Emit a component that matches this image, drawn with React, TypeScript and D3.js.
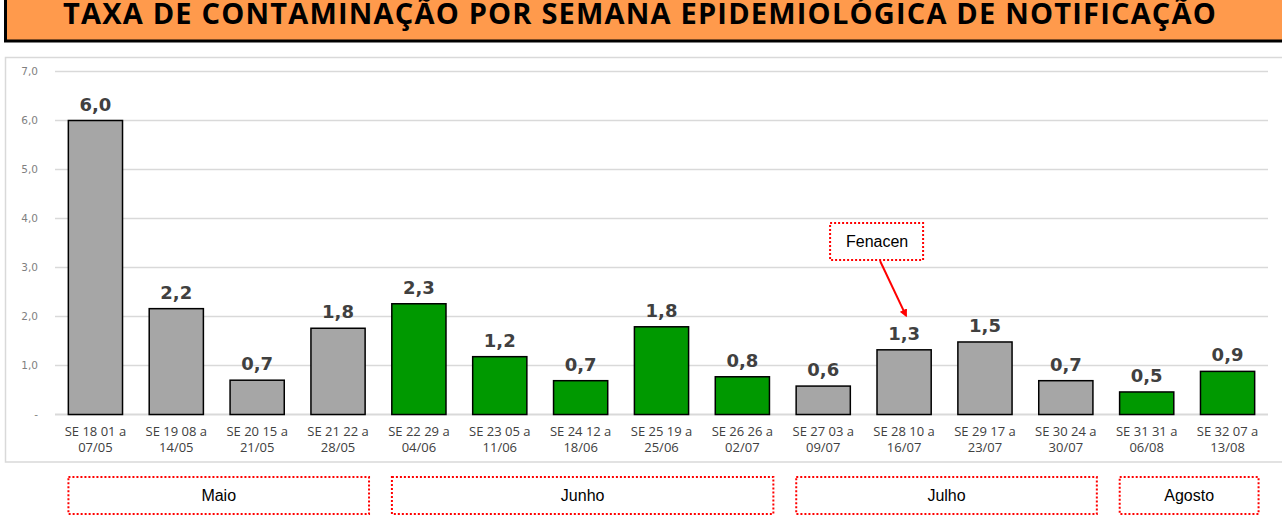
import React from "react";
import * as d3 from "d3";

// semanas epidemiológicas (duas linhas de rótulo)
const weeks = [
  "SE 18 01 a|07/05",
  "SE 19 08 a|14/05",
  "SE 20 15 a|21/05",
  "SE 21 22 a|28/05",
  "SE 22 29 a|04/06",
  "SE 23 05 a|11/06",
  "SE 24 12 a|18/06",
  "SE 25 19 a|25/06",
  "SE 26 26 a|02/07",
  "SE 27 03 a|09/07",
  "SE 28 10 a|16/07",
  "SE 29 17 a|23/07",
  "SE 30 24 a|30/07",
  "SE 31 31 a|06/08",
  "SE 32 07 a|13/08",
];
const rates = [6.0, 2.16, 0.7, 1.76, 2.26, 1.18, 0.69, 1.79, 0.77, 0.58, 1.32, 1.48, 0.69, 0.46, 0.88];
const highlighted = [false, false, false, false, true, true, true, true, true, false, false, false, false, true, true];
const yTicks = [0, 1, 2, 3, 4, 5, 6, 7];

const months = [
  { name: "Maio", from: 0, to: 3 },
  { name: "Junho", from: 4, to: 8 },
  { name: "Julho", from: 9, to: 12 },
  { name: "Agosto", from: 13, to: 14 },
];
const noteWeek = 10;
const noteText = "Fenacen";

const W = 1282;
const H = 528;
const fmt = (v: number) => (v === 0 ? "-" : v.toFixed(1).replace(".", ","));

export default function App() {
  const x = d3
    .scaleBand<string>()
    .domain(weeks)
    .range([55, 1268])
    .paddingInner(0.33)
    .paddingOuter(0.165);
  const y = d3.scaleLinear().domain([0, 7]).range([414.5, 71.5]);
  const cx = (i: number) => (x(weeks[i]) as number) + x.bandwidth() / 2;

  const nx = cx(noteWeek);

  return (
    <svg width={W} height={H} style={{ position: "absolute", left: 0, top: 0, background: "#fff" }}>
      <defs>
        <marker id="arr" viewBox="0 0 10 10" refX="8" refY="5" markerWidth="4" markerHeight="4" orient="auto">
          <path d="M0,0 L10,5 L0,10 z" fill="#ff0000" />
        </marker>
      </defs>

      {/* título */}
      <rect x={5.5} y={-6} width={1290} height={47} fill="#ff9a4c" stroke="#000" strokeWidth={3} />
      <text
        x={640}
        y={24}
        textAnchor="middle"
        fontFamily="Open Sans"
        fontWeight={700}
        fontSize={29}
        letterSpacing={1.2}
        fill="#000"
      >
        TAXA DE CONTAMINAÇÃO POR SEMANA EPIDEMIOLÓGICA DE NOTIFICAÇÃO
      </text>

      {/* área do gráfico */}
      <rect x={5.5} y={57.5} width={1290} height={404.5} fill="#fff" stroke="#d9d9d9" strokeWidth={1.5} />

      {yTicks.map((t) => (
        <g key={t}>
          <line x1={55} x2={1268} y1={y(t)} y2={y(t)} stroke="#d9d9d9" strokeWidth={t === 0 ? 2 : 1.5} />
          <text
            x={38}
            y={y(t)}
            dy="0.35em"
            textAnchor="end"
            fontFamily="DejaVu Sans"
            fontSize={10.5}
            fill="#7f7f7f"
          >
            {fmt(t)}
          </text>
        </g>
      ))}

      {weeks.map((w, i) => {
        const bx = x(w) as number;
        const [l1, l2] = w.split("|");
        return (
          <g key={w}>
            <rect
              x={bx}
              y={y(rates[i])}
              width={x.bandwidth()}
              height={y(0) - y(rates[i])}
              fill={highlighted[i] ? "#009900" : "#a6a6a6"}
              stroke="#000"
              strokeWidth={1.5}
            />
            <text
              x={cx(i)}
              y={y(rates[i]) - 10}
              textAnchor="middle"
              fontFamily="DejaVu Sans"
              fontWeight={700}
              fontSize={18}
              fill="#404040"
            >
              {fmt(Number(rates[i].toFixed(1)))}
            </text>
            <text textAnchor="middle" fontFamily="Open Sans" fontSize={13} fill="#404040">
              <tspan x={cx(i)} y={436}>
                {l1}
              </tspan>
              <tspan x={cx(i)} y={452}>
                {l2}
              </tspan>
            </text>
          </g>
        );
      })}

      {/* meses */}
      {months.map((m) => {
        const x0 = cx(m.from) - 27;
        const x1 = cx(m.to) + 31;
        return (
          <g key={m.name}>
            <rect
              x={x0}
              y={477}
              width={x1 - x0}
              height={37}
              fill="#fff"
              stroke="#ff0000"
              strokeWidth={2}
              strokeDasharray="2 2"
            />
            <text
              x={(x0 + x1) / 2}
              y={495.5}
              dy="0.35em"
              textAnchor="middle"
              fontFamily="Liberation Sans"
              fontSize={16}
              fill="#000"
            >
              {m.name}
            </text>
          </g>
        );
      })}

      {/* anotação */}
      <rect
        x={nx - 74}
        y={223}
        width={93}
        height={37}
        fill="#fff"
        stroke="#ff0000"
        strokeWidth={2}
        strokeDasharray="2 2"
      />
      <text
        x={nx - 27}
        y={241.5}
        dy="0.35em"
        textAnchor="middle"
        fontFamily="Liberation Sans"
        fontSize={16}
        fill="#000"
      >
        {noteText}
      </text>
      <line
        x1={nx - 24}
        y1={261}
        x2={nx + 2}
        y2={y(rates[noteWeek]) - 34}
        stroke="#ff0000"
        strokeWidth={2}
        markerEnd="url(#arr)"
      />
    </svg>
  );
}
